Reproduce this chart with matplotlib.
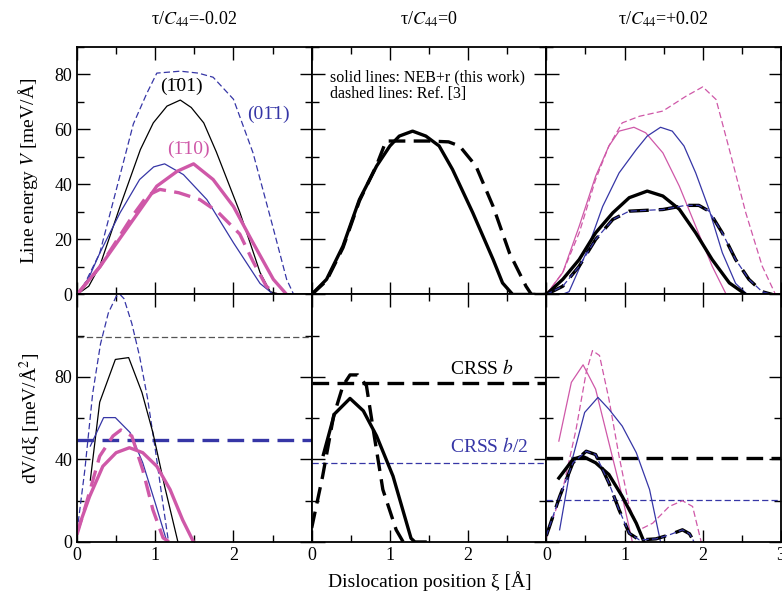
import numpy as np
import matplotlib
matplotlib.use("Agg")
import matplotlib.pyplot as plt
from matplotlib.ticker import MultipleLocator

plt.rcParams['font.family'] = ['Liberation Serif', 'DejaVu Serif']
plt.rcParams['mathtext.fontset'] = 'stix'

NAVY = '#3636a6'
PINK = '#cf58a8'

# ---- line energy V(xi), tau/C44 = -0.02 ----
xm_101 = [0, 0.15, 0.29, 0.55, 0.81, 0.975, 1.15, 1.32, 1.46, 1.62, 1.78, 2.08, 2.34, 2.47, 2.6]
vm_101 = [0, 3, 10.3, 32, 52.7, 62.4, 68.5, 70.7, 68, 62.4, 51.9, 30, 8, 1, 0]
xm_011 = [0, 0.15, 0.29, 0.55, 0.8, 0.98, 1.12, 1.36, 1.66, 2.0, 2.34, 2.5, 2.6]
vm_011 = [0, 6, 15, 29.7, 41.8, 46.4, 47.5, 43.6, 34.5, 18.8, 4, 0.3, 0]
xm_011r = [0, 0.1, 0.29, 0.51, 0.72, 0.89, 1.02, 1.32, 1.55, 1.74, 2.0, 2.25, 2.5, 2.68, 2.77]
vm_011r = [0, 4, 15, 39, 62, 73, 80.5, 81.2, 80.5, 79, 71, 51.5, 25, 5.5, 0]
xm_110 = [0, 0.29, 0.72, 1.02, 1.28, 1.49, 1.74, 2.0, 2.25, 2.51, 2.68]
vm_110 = [0, 10, 27.3, 39.4, 44.8, 47.5, 41.8, 32, 18.8, 5.5, 0]
xm_110r = [0, 0.29, 0.72, 0.9, 1.06, 1.3, 1.57, 1.8, 2.08, 2.25, 2.42, 2.55]
vm_110r = [0, 10, 29, 36, 38.2, 37, 34.5, 30, 22, 12, 3, 0]

# ---- tau/C44 = 0 ----
x0 = [0, 0.19, 0.4, 0.61, 0.83, 1.0, 1.12, 1.29, 1.46, 1.63, 1.8, 2.06, 2.32, 2.44, 2.57, 3.0]
v0 = [0, 5.5, 17.6, 34.5, 46.7, 54, 57.6, 59.4, 57.6, 54, 45.5, 29.7, 12.7, 4.2, 0, 0]
x0r = [0, 0.19, 0.4, 0.61, 0.83, 0.95, 1.2, 1.5, 1.75, 1.89, 2.1, 2.32, 2.53, 2.74, 2.81, 3.0]
v0r = [0, 5, 17, 34, 47, 55.8, 55.8, 55.8, 55.5, 54, 46.7, 32, 15, 3, 0, 0]

# ---- tau/C44 = +0.02 ----
xp_110 = [0, 0.21, 0.42, 0.63, 0.8, 0.93, 1.12, 1.27, 1.49, 1.7, 1.91, 2.12, 2.3]
vp_110 = [0, 8, 24.8, 43, 54, 59.4, 60.8, 58.8, 51.5, 39.4, 24.8, 10.3, 0]
xp_110r = [0, 0.21, 0.42, 0.63, 0.8, 0.97, 1.19, 1.49, 1.78, 2.0, 2.17, 2.34, 2.55, 2.76, 2.93]
vp_110r = [0, 8, 22.4, 41.8, 54, 62.4, 64.8, 66.7, 72, 75.5, 70.9, 52.7, 29.7, 10.3, 0]
xp_011 = [0.2, 0.29, 0.51, 0.72, 0.93, 1.15, 1.29, 1.46, 1.61, 1.76, 1.91, 2.08, 2.25, 2.42, 2.57]
vp_011 = [0, 1, 15.2, 32, 44.2, 52.7, 57.6, 60.8, 59.4, 54, 44.2, 31, 15.2, 4, 0]
xp = [0, 0.21, 0.42, 0.63, 0.85, 1.06, 1.29, 1.49, 1.7, 1.91, 2.12, 2.34, 2.55]
vp = [0, 5.5, 12.7, 22.4, 29.7, 35.2, 37.6, 35.8, 31, 22.4, 12.7, 4.2, 0]
xpr = [0, 0.21, 0.42, 0.63, 0.85, 1.06, 1.49, 1.78, 1.95, 2.08, 2.25, 2.42, 2.59, 2.76, 2.89]
vpr = [0, 3, 10.3, 20, 27.3, 30.3, 30.9, 32.4, 32.4, 30.3, 22.4, 12.7, 5.5, 1, 0]

# ---- derivatives dV/dxi ----
dxm_101 = [0.17, 0.29, 0.49, 0.66, 0.83, 0.97, 1.12, 1.29]
dvm_101 = [30, 67.8, 88.5, 89.4, 72.5, 53, 27, 0]
dxm_011 = [0.17, 0.34, 0.49, 0.68, 0.84, 1.0, 1.15]
dvm_011 = [46.5, 60.3, 60.3, 53, 38.4, 18.9, 0]
dxm_011r = [0, 0.1, 0.2, 0.3, 0.4, 0.5, 0.55, 0.6, 0.7, 0.8, 0.9, 1.0, 1.1, 1.17]
dvm_011r = [5, 35, 72, 96, 111, 119, 120, 118, 106, 90, 70, 45, 18, 0]
dxm_110 = [0, 0.16, 0.33, 0.5, 0.67, 0.84, 1.02, 1.19, 1.35, 1.49]
dvm_110 = [5, 22, 36.7, 43.3, 45.7, 43.3, 36.7, 25.4, 10.7, 0]
dxm_110r = [0, 0.12, 0.29, 0.46, 0.56, 0.7, 0.84, 0.97, 1.1, 1.18]
dvm_110r = [3.6, 18.9, 41.6, 51.4, 54.3, 51.4, 35, 15.6, 2, 0]

dx0 = [0.15, 0.29, 0.49, 0.66, 0.83, 1.04, 1.27, 1.32, 1.45]
dv0 = [42.4, 62, 69.6, 63.6, 51.4, 31.9, 1.8, 0, 0]
dx0r = [0, 0.14, 0.28, 0.4, 0.49, 0.59, 0.7, 0.8, 0.91, 1.08, 1.17]
dv0r = [6.8, 31.9, 61, 75.8, 81, 81, 75.8, 51.4, 25.4, 5.9, 0]

dxp_110 = [0.16, 0.32, 0.47, 0.63, 0.8, 0.97, 1.1]
dvp_110 = [48.9, 77.4, 85.9, 74.1, 48.1, 22.1, 0]
dxp_110r = [0, 0.21, 0.38, 0.51, 0.59, 0.68, 0.8, 0.93, 1.06, 1.19, 1.36, 1.57, 1.74, 1.87, 1.98]
dvp_110r = [2, 25.4, 54.6, 82.3, 92.8, 90.4, 69.3, 41.6, 17.2, 5.9, 9.1, 17.2, 20, 17.2, 0]
dxp_011 = [0.17, 0.32, 0.49, 0.66, 0.8, 0.97, 1.15, 1.32, 1.46]
dvp_011 = [5.9, 38.4, 62.8, 70.1, 64.4, 56.2, 43.3, 25.4, 0]
dxp = [0.16, 0.34, 0.46, 0.63, 0.8, 0.97, 1.15, 1.25]
dvp = [31, 40, 41.6, 38.4, 32.7, 22.1, 9.1, 0]
dxpr = [0, 0.17, 0.34, 0.51, 0.63, 0.8, 0.93, 1.06, 1.19, 1.4, 1.57, 1.74, 1.83, 1.89]
dvpr = [3, 22, 38.4, 44, 42.4, 28.6, 15.6, 4.2, 1, 1.5, 3.4, 5.9, 4, 0]

# critical resolved shear stress levels
crss_m = [99.2, 49.3]
crss_0 = [76.9, 38.4]
crss_p = [40.8, 20.2]

titles = [u'\u03c4/$C_{44}$=-0.02', u'\u03c4/$C_{44}$=0', u'\u03c4/$C_{44}$=+0.02']
# plane labels, bar over the negative index via a combining macron
planes = [u'(1\u030401)', u'(01\u03041)', u'(1\u030410)']

THICK = 2.4
THIN = 0.9
DASH_THICK = (0, (5, 2.5))
DASH_THIN = (0, (5, 2.5))

fig, axes = plt.subplots(2, 3, figsize=(7.82, 6.0), dpi=100)
fig.subplots_adjust(left=0.0985, right=0.9987, top=0.9217, bottom=0.0967,
                    wspace=0, hspace=0)

# top row: line energies
a = axes[0, 0]
a.plot(xm_011r, vm_011r, color=NAVY, lw=THIN, ls=DASH_THIN)
a.plot(xm_101, vm_101, color='black', lw=THIN)
a.plot(xm_011, vm_011, color=NAVY, lw=THIN)
a.plot(xm_110r, vm_110r, color=PINK, lw=THICK, ls=DASH_THICK)
a.plot(xm_110, vm_110, color=PINK, lw=THICK)
a.text(1.34, 72.5, planes[0], color='black', fontsize=14, ha='center', va='bottom')
a.text(2.45, 62.5, planes[1], color=NAVY, fontsize=14, ha='center', va='bottom')
a.text(1.42, 49.5, planes[2], color=PINK, fontsize=14, ha='center', va='bottom')

a = axes[0, 1]
a.plot(x0r, v0r, color='black', lw=THICK, ls=DASH_THICK)
a.plot(x0, v0, color='black', lw=THICK)
a.text(0.23, 82, 'solid lines: NEB+r (this work)\ndashed lines: Ref. [3]',
       fontsize=11.5, ha='left', va='top', linespacing=1.05)

a = axes[0, 2]
a.plot(xp_110r, vp_110r, color=PINK, lw=THIN, ls=DASH_THIN)
a.plot(xp_110, vp_110, color=PINK, lw=THIN)
a.plot(xp_011, vp_011, color=NAVY, lw=THIN)
a.plot(xp, vp, color='black', lw=THICK)
a.plot(xpr, vpr, color='black', lw=THICK, ls=(0, (6, 3)))
a.plot(xpr, vpr, color=NAVY, lw=THIN, ls=DASH_THIN)

# bottom row: derivatives
a = axes[1, 0]
a.axhline(crss_m[0], color='#555555', lw=THIN, ls=DASH_THIN)
a.axhline(crss_m[1], color=NAVY, lw=THICK, ls=DASH_THICK)
a.plot(dxm_011r, dvm_011r, color=NAVY, lw=THIN, ls=DASH_THIN)
a.plot(dxm_101, dvm_101, color='black', lw=THIN)
a.plot(dxm_011, dvm_011, color=NAVY, lw=THIN)
a.plot(dxm_110r, dvm_110r, color=PINK, lw=THICK, ls=DASH_THICK)
a.plot(dxm_110, dvm_110, color=PINK, lw=THICK)

a = axes[1, 1]
a.axhline(crss_0[0], color='black', lw=THICK, ls=DASH_THICK)
a.axhline(crss_0[1], color=NAVY, lw=THIN, ls=DASH_THIN)
a.plot(dx0r, dv0r, color='black', lw=THICK, ls=DASH_THICK)
a.plot(dx0, dv0, color='black', lw=THICK)
a.text(2.18, 84, r'CRSS $b$', fontsize=14, ha='center', va='center')
a.text(2.27, 46.5, r'CRSS $b$/2', fontsize=14, ha='center', va='center', color=NAVY)

a = axes[1, 2]
a.axhline(crss_p[0], color='black', lw=THICK, ls=DASH_THICK)
a.axhline(crss_p[1], color=NAVY, lw=THIN, ls=DASH_THIN)
a.plot(dxp_110r, dvp_110r, color=PINK, lw=THIN, ls=DASH_THIN)
a.plot(dxp_110, dvp_110, color=PINK, lw=THIN)
a.plot(dxp_011, dvp_011, color=NAVY, lw=THIN)
a.plot(dxp, dvp, color='black', lw=THICK)
a.plot(dxpr, dvpr, color='black', lw=THICK, ls=(0, (6, 3)))
a.plot(dxpr, dvpr, color=NAVY, lw=THIN, ls=DASH_THIN)

# axis limits, ticks and labels
for i in range(2):
    for j in range(3):
        a = axes[i, j]
        a.set_xlim(0, 3)
        if i == 0:
            a.set_ylim(0, 90)
            a.yaxis.set_major_locator(MultipleLocator(20))
            a.yaxis.set_minor_locator(MultipleLocator(10))
        else:
            a.set_ylim(0, 120)
            a.yaxis.set_major_locator(MultipleLocator(40))
            a.yaxis.set_minor_locator(MultipleLocator(20))
        a.xaxis.set_major_locator(MultipleLocator(1))
        a.xaxis.set_minor_locator(MultipleLocator(0.5))
        a.tick_params(which='both', direction='in', top=True, right=True,
                      labelsize=13, width=1.0)
        a.tick_params(which='major', length=9)
        a.tick_params(which='minor', length=5)
        for s in a.spines.values():
            s.set_linewidth(1.3)
        if j > 0:
            a.tick_params(labelleft=False)
        if i == 0:
            a.tick_params(labelbottom=False)

axes[0, 0].set_yticks([0, 20, 40, 60, 80])
axes[1, 0].set_yticks([0, 40, 80])
for j in range(3):
    axes[0, j].set_title(titles[j], fontsize=13, pad=16)
    if j < 2:
        axes[1, j].set_xticks([0, 1, 2])
axes[1, 2].set_xticks([0, 1, 2, 3])

axes[0, 0].set_ylabel(u'Line energy $V$ [meV/\u00c5]', fontsize=14, labelpad=10)
axes[1, 0].set_ylabel(u'dV/d\u03be [meV/\u00c5$^2$]', fontsize=14, labelpad=8)
fig.text(0.55, 0.022, u'Dislocation position \u03be [\u00c5]', fontsize=14, ha='center')

fig.savefig('out.png', dpi=100)
